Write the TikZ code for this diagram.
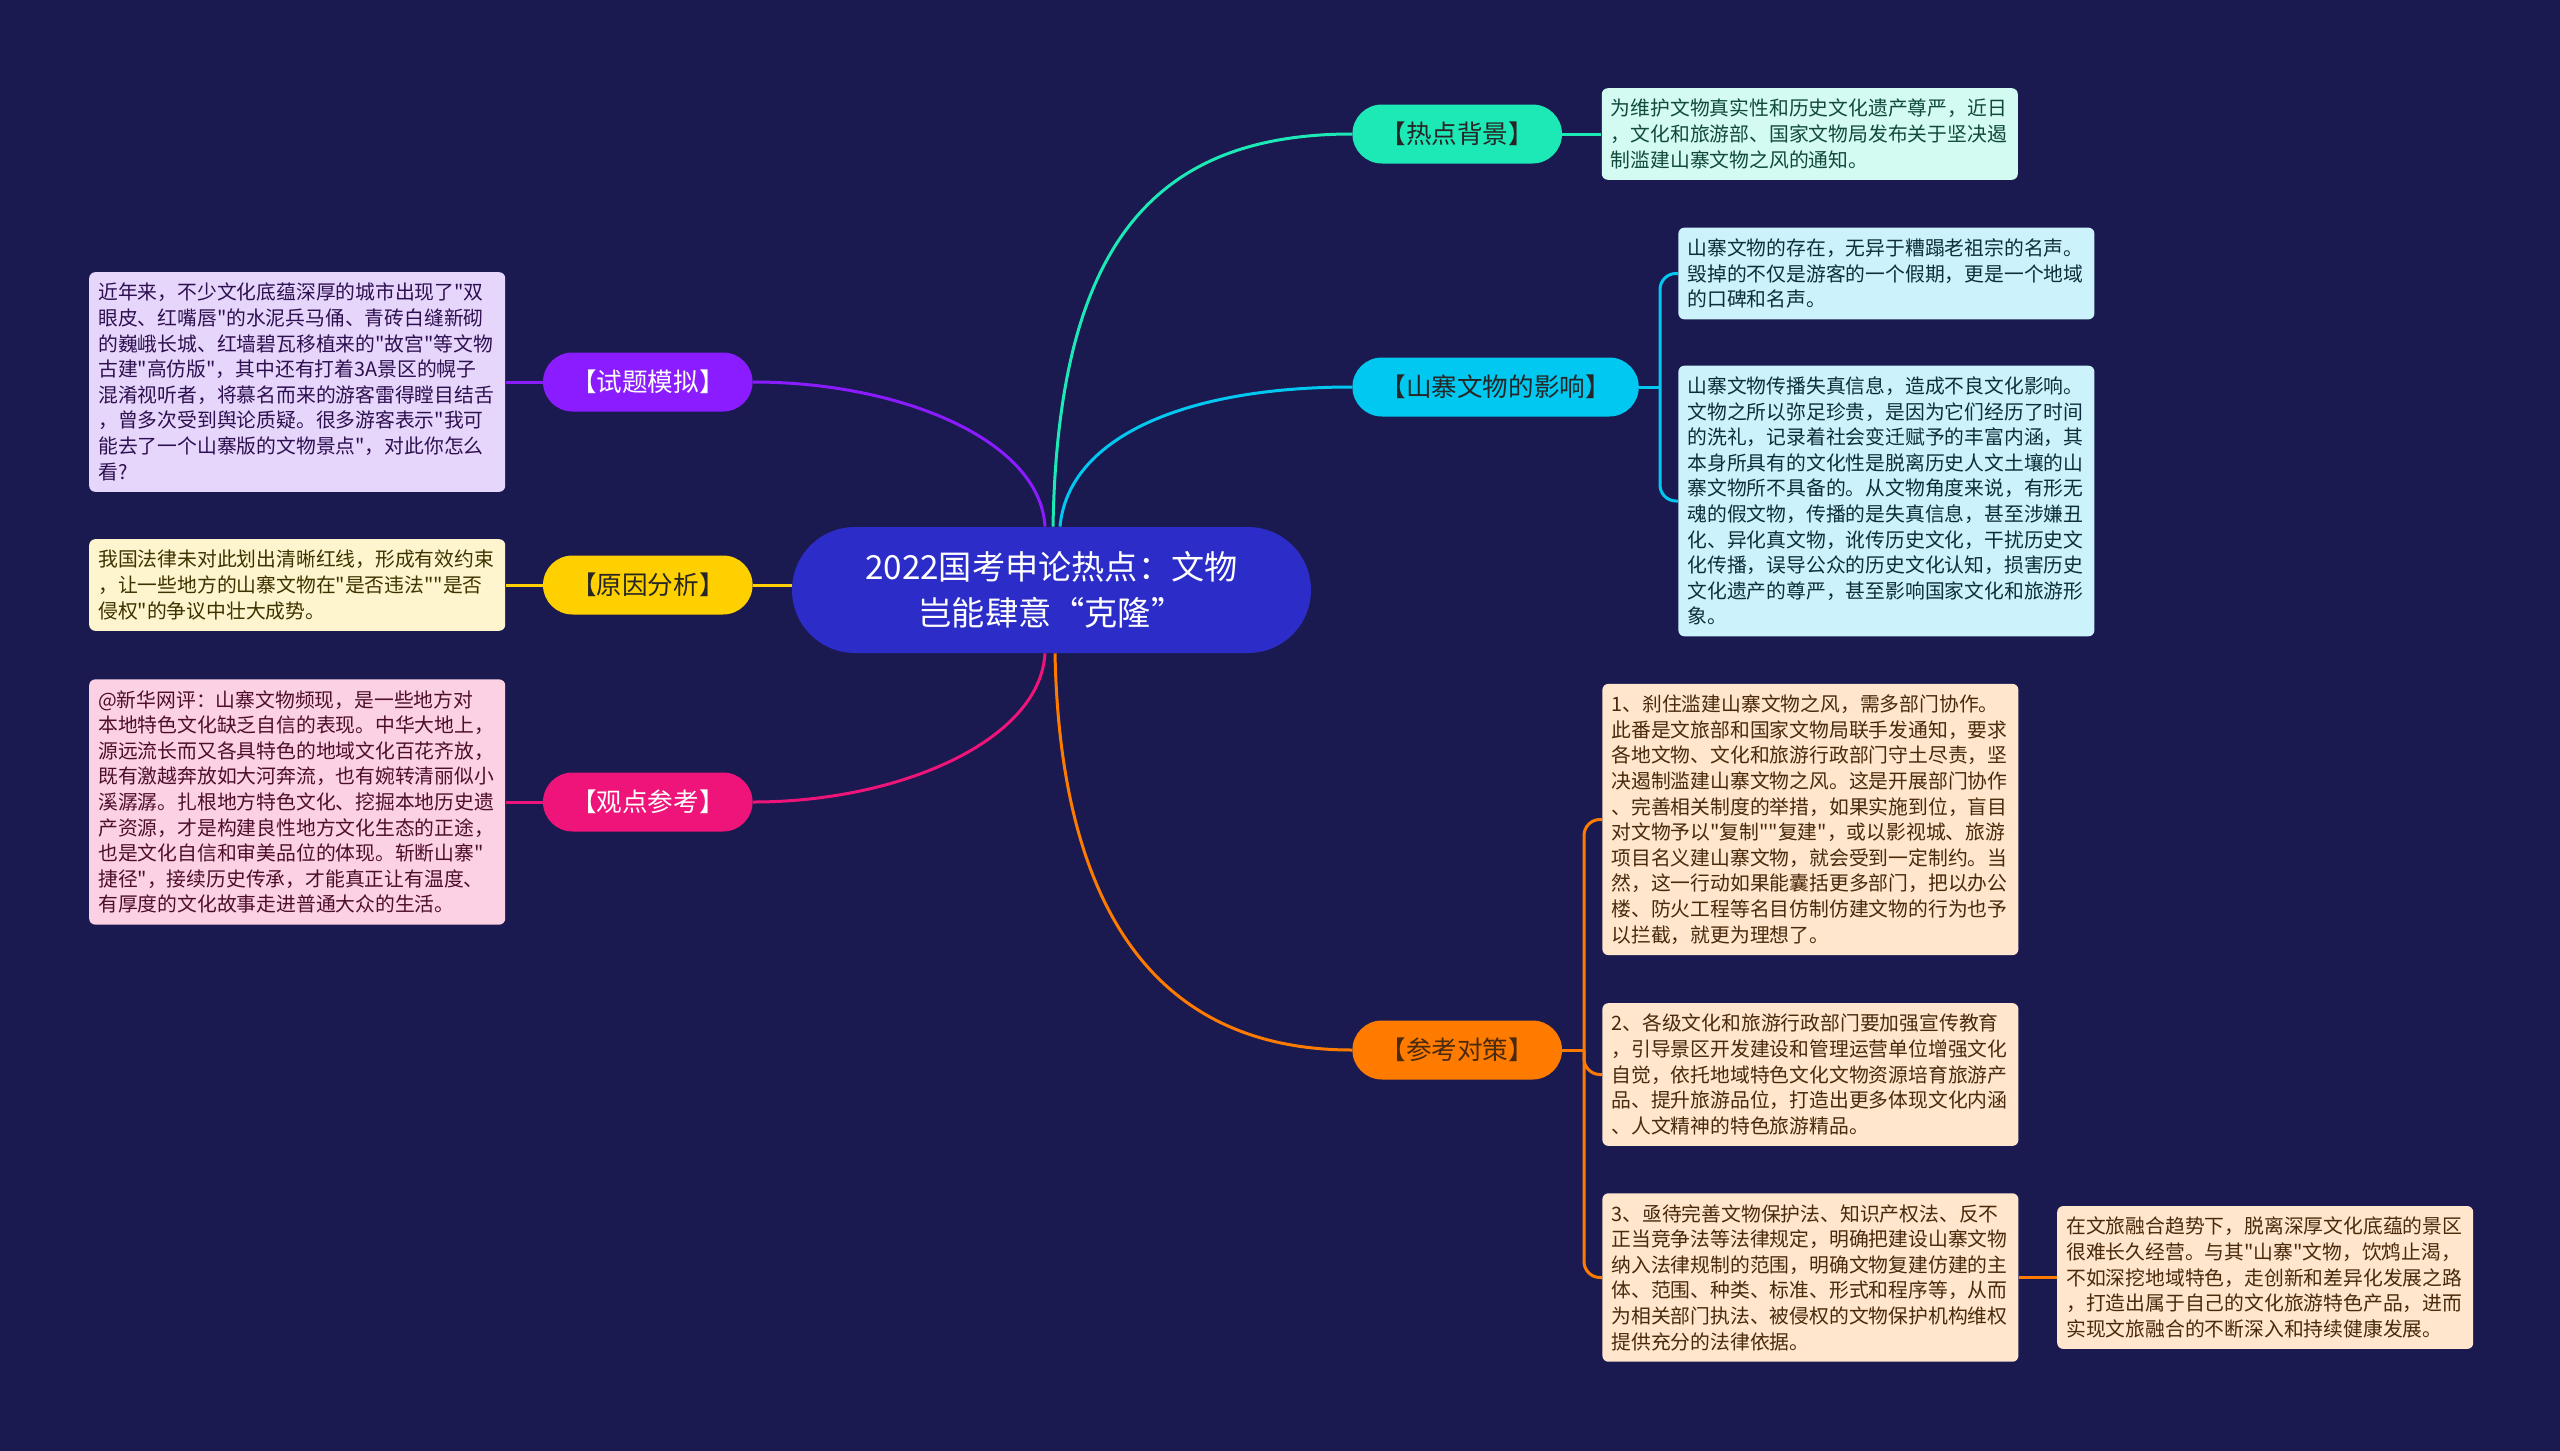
\documentclass[tikz,border=0pt]{standalone}
\usepackage{fontspec}
\newfontfamily\notosc{Noto Sans CJK SC}
\usepackage{tikz}
\usetikzlibrary{positioning}
\definecolor{bgnavy}{HTML}{1A1A50}
\definecolor{rootblue}{HTML}{2C2CC8}
\definecolor{hotteal}{HTML}{1DE9B6}
\definecolor{impcyan}{HTML}{00C8F0}
\definecolor{polorange}{HTML}{FF7B00}
\definecolor{quizpurple}{HTML}{8A1CFF}
\definecolor{causeyellow}{HTML}{FFD000}
\definecolor{viewpink}{HTML}{EF1479}
\definecolor{hotleaf}{HTML}{D3FBF1}
\definecolor{impleaf}{HTML}{CCF3FC}
\definecolor{polleaf}{HTML}{FFE6CC}
\definecolor{quizleaf}{HTML}{E6D6FC}
\definecolor{causeleaf}{HTML}{FEF4CD}
\definecolor{viewleaf}{HTML}{FDD1E4}
\definecolor{hottext}{HTML}{114A3A}
\definecolor{imptext}{HTML}{0E2D3A}
\definecolor{poltext}{HTML}{4A2A0C}
\definecolor{quiztext}{HTML}{2E1050}
\definecolor{causetext}{HTML}{3D3300}
\definecolor{viewtext}{HTML}{4D0E2C}

\begin{document}
\begin{tikzpicture}[
  x=0.5pt, y=-0.5pt,
  root/.style={
    fill=rootblue, text=white, rounded corners=31.5pt,
    minimum width=259.5pt, minimum height=63pt, inner sep=0pt,
    font=\notosc\fontsize{16.6}{22.9}\selectfont, align=center
  },
  topic/.style={
    rounded corners=14.75pt, minimum height=29.5pt,
    inner xsep=14pt, inner ysep=0pt,
    font=\notosc\fontsize{12.8}{15}\selectfont, text=black!85
  },
  leaf/.style={
    rounded corners=3pt, text width=199pt,
    inner xsep=4.5pt, inner ysep=5.5pt,
    font=\notosc\fontsize{9.9}{12.8}\selectfont, align=left
  },
  link/.style={line width=1.5pt}
]
  \useasboundingbox (0,0) rectangle (2560,1451);
  \fill[bgnavy] (0,0) rectangle (2560,1451);

  \node[root] (root) at (1051.5,590) {2022国考申论热点：文物\\岂能肆意“克隆”};

  % right side
  \node[topic, fill=hotteal, anchor=west] (hot) at (1352,134) {【热点背景】};
  \node[topic, fill=impcyan, anchor=west] (imp) at (1352,387) {【山寨文物的影响】};
  \node[topic, fill=polorange, anchor=west, text=poltext] (pol) at (1352,1050) {【参考对策】};

  % left side
  \node[topic, fill=quizpurple, anchor=east, text=white] (quiz) at (753,382) {【试题模拟】};
  \node[topic, fill=causeyellow, anchor=east] (cause) at (753,585) {【原因分析】};
  \node[topic, fill=viewpink, anchor=east, text=white] (view) at (753,802) {【观点参考】};

  \node[leaf, fill=hotleaf, text=hottext, right=19.5pt of hot] (hotnote) {%
    为维护文物真实性和历史文化遗产尊严，近日\\
    ，文化和旅游部、国家文物局发布关于坚决遏\\
    制滥建山寨文物之风的通知。};

  \node[leaf, fill=impleaf, text=imptext, anchor=west] (impnote1) at (1678,273.5) {%
    山寨文物的存在，无异于糟蹋老祖宗的名声。\\
    毁掉的不仅是游客的一个假期，更是一个地域\\
    的口碑和名声。};
  \node[leaf, fill=impleaf, text=imptext, anchor=west] (impnote2) at (1678,501) {%
    山寨文物传播失真信息，造成不良文化影响。\\
    文物之所以弥足珍贵，是因为它们经历了时间\\
    的洗礼，记录着社会变迁赋予的丰富内涵，其\\
    本身所具有的文化性是脱离历史人文土壤的山\\
    寨文物所不具备的。从文物角度来说，有形无\\
    魂的假文物，传播的是失真信息，甚至涉嫌丑\\
    化、异化真文物，讹传历史文化，干扰历史文\\
    化传播，误导公众的历史文化认知，损害历史\\
    文化遗产的尊严，甚至影响国家文化和旅游形\\
    象。};

  \node[leaf, fill=polleaf, text=poltext, anchor=west] (polnote1) at (1602,819.5) {%
    1、刹住滥建山寨文物之风，需多部门协作。\\
    此番是文旅部和国家文物局联手发通知，要求\\
    各地文物、文化和旅游行政部门守土尽责，坚\\
    决遏制滥建山寨文物之风。这是开展部门协作\\
    、完善相关制度的举措，如果实施到位，盲目\\
    对文物予以"复制""复建"，或以影视城、旅游\\
    项目名义建山寨文物，就会受到一定制约。当\\
    然，这一行动如果能囊括更多部门，把以办公\\
    楼、防火工程等名目仿制仿建文物的行为也予\\
    以拦截，就更为理想了。};
  \node[leaf, fill=polleaf, text=poltext, anchor=west] (polnote2) at (1602,1074.5) {%
    2、各级文化和旅游行政部门要加强宣传教育\\
    ，引导景区开发建设和管理运营单位增强文化\\
    自觉，依托地域特色文化文物资源培育旅游产\\
    品、提升旅游品位，打造出更多体现文化内涵\\
    、人文精神的特色旅游精品。};
  \node[leaf, fill=polleaf, text=poltext, anchor=west] (polnote3) at (1602,1277.5) {%
    3、亟待完善文物保护法、知识产权法、反不\\
    正当竞争法等法律规定，明确把建设山寨文物\\
    纳入法律规制的范围，明确文物复建仿建的主\\
    体、范围、种类、标准、形式和程序等，从而\\
    为相关部门执法、被侵权的文物保护机构维权\\
    提供充分的法律依据。};
  \node[leaf, fill=polleaf, text=poltext, right=19pt of polnote3] (polnote4) {%
    在文旅融合趋势下，脱离深厚文化底蕴的景区\\
    很难长久经营。与其"山寨"文物，饮鸩止渴，\\
    不如深挖地域特色，走创新和差异化发展之路\\
    ，打造出属于自己的文化旅游特色产品，进而\\
    实现文旅融合的不断深入和持续健康发展。};

  \node[leaf, fill=quizleaf, text=quiztext, left=18.5pt of quiz] (quiznote) {%
    近年来，不少文化底蕴深厚的城市出现了"双\\
    眼皮、红嘴唇"的水泥兵马俑、青砖白缝新砌\\
    的巍峨长城、红墙碧瓦移植来的"故宫"等文物\\
    古建"高仿版"，其中还有打着3A景区的幌子\\
    混淆视听者，将慕名而来的游客雷得瞠目结舌\\
    ，曾多次受到舆论质疑。很多游客表示"我可\\
    能去了一个山寨版的文物景点"，对此你怎么\\
    看?};
  \node[leaf, fill=causeleaf, text=causetext, left=18.5pt of cause] (causenote) {%
    我国法律未对此划出清晰红线，形成有效约束\\
    ，让一些地方的山寨文物在"是否违法""是否\\
    侵权"的争议中壮大成势。};
  \node[leaf, fill=viewleaf, text=viewtext, left=18.5pt of view] (viewnote) {%
    @新华网评：山寨文物频现，是一些地方对\\
    本地特色文化缺乏自信的表现。中华大地上，\\
    源远流长而又各具特色的地域文化百花齐放，\\
    既有激越奔放如大河奔流，也有婉转清丽似小\\
    溪潺潺。扎根地方特色文化、挖掘本地历史遗\\
    产资源，才是构建良性地方文化生态的正途，\\
    也是文化自信和审美品位的体现。斩断山寨"\\
    捷径"，接续历史传承，才能真正让有温度、\\
    有厚度的文化故事走进普通大众的生活。};

  % branches from the root
  \draw[link, hotteal] ([xshift=0.75pt]root.north) .. controls +(5,-277) and +(-202,0) .. (hot.west);
  \draw[link, impcyan] ([xshift=4.25pt]root.north) .. controls +(8,-87) and +(-172,0) .. (imp.west);
  \draw[link, polorange] ([xshift=1.75pt]root.south) .. controls +(5,247) and +(-202,0) .. (pol.west);
  \draw[link, quizpurple] ([xshift=-3.25pt]root.north) .. controls +(-5,-87) and +(147,0) .. (quiz.east);
  \draw[link, causeyellow] (cause.east) -- (cause.east -| root.west);
  \draw[link, viewpink] ([xshift=-3.25pt]root.south) .. controls +(-5,87) and +(147,0) .. (view.east);

  % notes
  \draw[link, hotteal] (hot) -- (hotnote);
  \draw[link, quizpurple] (quiz) -- (quiznote);
  \draw[link, causeyellow] (cause) -- (causenote);
  \draw[link, viewpink] (view) -- (viewnote);

  \coordinate (impfork) at (1660,387);
  \draw[link, impcyan] (imp.east) -- (impfork);
  \draw[link, impcyan, rounded corners=8pt] (impfork) |- (impnote1.west);
  \draw[link, impcyan, rounded corners=8pt] (impfork) |- (impnote2.west);

  \coordinate (polfork) at (1584,1050);
  \draw[link, polorange] (pol.east) -- (polfork);
  \draw[link, polorange, rounded corners=8pt] (polfork) |- (polnote1.west);
  \draw[link, polorange, rounded corners=8pt] (polfork) |- (polnote2.west);
  \draw[link, polorange, rounded corners=8pt] (polfork) |- (polnote3.west);
  \draw[link, polorange] (polnote3) -- (polnote4);
\end{tikzpicture}
\end{document}
